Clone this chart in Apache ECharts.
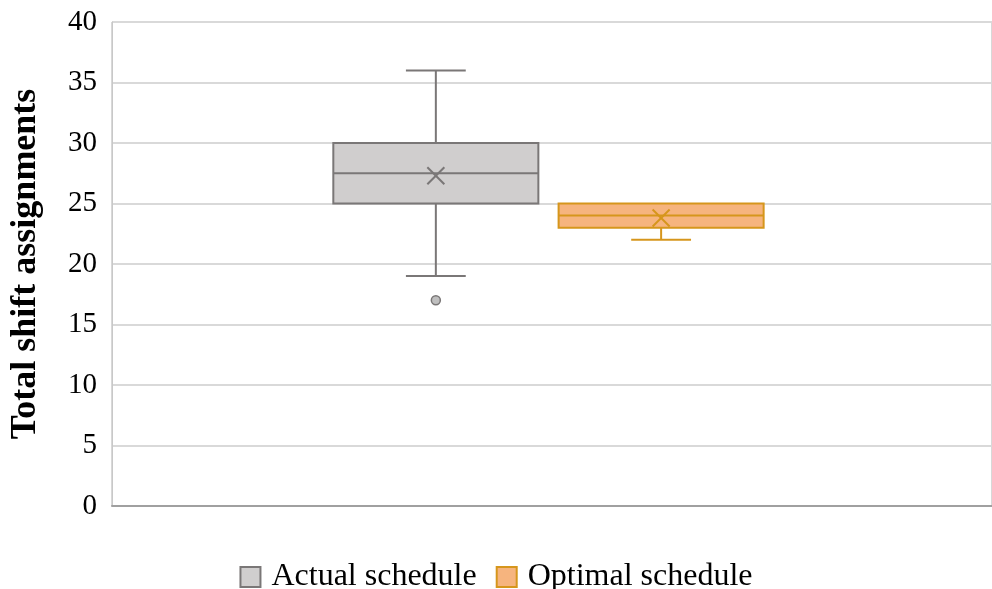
<!DOCTYPE html>
<html>
<head>
<meta charset="utf-8">
<script src="https://cdn.jsdelivr.net/npm/echarts@6/dist/echarts.min.js"></script>
<style>html,body{margin:0;padding:0;background:#fff}#c{width:992px;height:589px}</style>
</head>
<body>
<div id="c"></div>
<script>
// ---- data ----
const seriesNames = ['Actual schedule', 'Optimal schedule'];
const whiskerLow = [19, 22];
const q1 = [25, 23];
const median = [27.5, 24];
const q3 = [30, 25];
const whiskerHigh = [36, 25];
const means = [27.3, 23.8];
const outliers = [[17], []];
const yTicks = [0, 5, 10, 15, 20, 25, 30, 35, 40];

// ---- styles ----
const fills = ['#d0cece', '#f6b47e'];
const strokes = ['#7a7777', '#d6961c'];
const offsets = [-0.132, 0.124];
const boxFrac = 0.233;
const capFrac = 0.068;
const FONT = "'Liberation Serif', 'DejaVu Serif', serif";

const chart = echarts.init(document.getElementById('c'));

function makeRender(idx) {
  return function (params, api) {
    const band = api.size([1, 0])[0];
    const cx = api.coord([api.value(0), 0])[0] + offsets[idx] * band;
    const hw = band * boxFrac / 2;
    const cw = band * capFrac / 2;
    const yLo = api.coord([0, api.value(1)])[1];
    const yQ1 = api.coord([0, api.value(2)])[1];
    const yMed = api.coord([0, api.value(3)])[1];
    const yQ3 = api.coord([0, api.value(4)])[1];
    const yHi = api.coord([0, api.value(5)])[1];
    const yMean = api.coord([0, api.value(6)])[1];
    const ls = { stroke: strokes[idx], lineWidth: 2, fill: null };
    const children = [];
    if (yHi < yQ3 - 0.5) {
      children.push({ type: 'line', shape: { x1: cx, y1: yQ3, x2: cx, y2: yHi }, style: ls });
      children.push({ type: 'line', shape: { x1: cx - cw, y1: yHi, x2: cx + cw, y2: yHi }, style: ls });
    }
    if (yLo > yQ1 + 0.5) {
      children.push({ type: 'line', shape: { x1: cx, y1: yQ1, x2: cx, y2: yLo }, style: ls });
      children.push({ type: 'line', shape: { x1: cx - cw, y1: yLo, x2: cx + cw, y2: yLo }, style: ls });
    }
    children.push({ type: 'rect', shape: { x: cx - hw, y: yQ3, width: hw * 2, height: yQ1 - yQ3 },
      style: { fill: fills[idx], stroke: strokes[idx], lineWidth: 2 } });
    children.push({ type: 'line', shape: { x1: cx - hw, y1: yMed, x2: cx + hw, y2: yMed }, style: ls });
    const m = 8.5;
    children.push({ type: 'line', shape: { x1: cx - m, y1: yMean - m, x2: cx + m, y2: yMean + m }, style: ls });
    children.push({ type: 'line', shape: { x1: cx - m, y1: yMean + m, x2: cx + m, y2: yMean - m }, style: ls });
    outliers[idx].forEach(function (v) {
      const yo = api.coord([0, v])[1];
      children.push({ type: 'circle', shape: { cx: cx, cy: yo, r: 4.5 },
        style: { fill: '#bfbfbf', stroke: strokes[idx], lineWidth: 1.5 } });
    });
    return { type: 'group', children: children };
  };
}

const series = seriesNames.map(function (name, i) {
  return {
    name: name,
    type: 'custom',
    renderItem: makeRender(i),
    itemStyle: { color: fills[i], borderColor: strokes[i], borderWidth: 2 },
    encode: { x: 0, y: [1, 2, 3, 4, 5, 6] },
    data: [[0, whiskerLow[i], q1[i], median[i], q3[i], whiskerHigh[i], means[i]]],
    z: 3
  };
});

chart.setOption({
  animation: false,
  grid: { left: 112, right: 0, top: 22, bottom: 83, show: true, borderColor: '#b0b0b0', borderWidth: 1 },
  legend: {
    top: 556,
    left: 'center',
    icon: 'rect',
    itemWidth: 20,
    itemHeight: 20,
    itemGap: 19,
    textStyle: { fontFamily: FONT, fontSize: 32, color: '#000', padding: [0, 0, 0, 6] },
    data: seriesNames.map(function (n, i) {
      return { name: n, itemStyle: { color: fills[i], borderColor: strokes[i], borderWidth: 2 } };
    })
  },
  xAxis: {
    type: 'category',
    data: [''],
    axisLine: { show: true, lineStyle: { color: '#a0a0a0', width: 2 } },
    axisTick: { show: false },
    axisLabel: { show: false },
    splitLine: { show: false }
  },
  yAxis: {
    type: 'value',
    min: 0,
    max: 40,
    interval: 5,
    name: 'Total shift assignments',
    nameLocation: 'middle',
    nameGap: 68,
    nameTextStyle: { fontFamily: FONT, fontSize: 36, fontWeight: 'bold', color: '#000' },
    axisLine: { show: true, lineStyle: { color: '#c8c8c8', width: 1 } },
    axisTick: { show: false },
    axisLabel: { fontFamily: FONT, fontSize: 29, color: '#000', margin: 15,
      formatter: function (v) { return yTicks.indexOf(v) >= 0 ? String(v) : ''; } },
    splitLine: { show: true, lineStyle: { color: '#d9d9d9', width: 2 } }
  },
  series: series
});
</script>
</body>
</html>
